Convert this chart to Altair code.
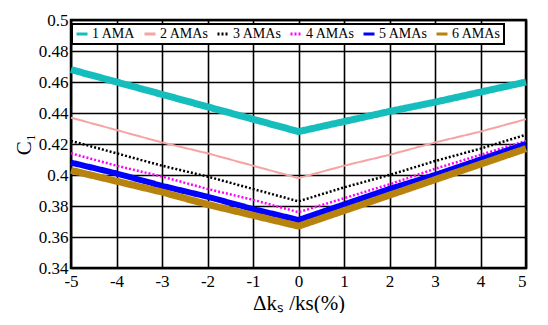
import altair as alt
import pandas as pd

x_vals = [-5, -4, -3, -2, -1, 0, 1, 2, 3, 4, 5]
series_names = ["1 AMA", "2 AMAs", "3 AMAs", "4 AMAs", "5 AMAs", "6 AMAs"]
s1 = [0.468, 0.460, 0.452, 0.444, 0.436, 0.428, 0.4345, 0.441, 0.447, 0.4535, 0.460]
s2 = [0.437, 0.429, 0.421, 0.414, 0.406, 0.398, 0.406, 0.413, 0.421, 0.428, 0.436]
s3 = [0.422, 0.414, 0.406, 0.399, 0.391, 0.383, 0.392, 0.400, 0.409, 0.417, 0.426]
s4 = [0.414, 0.406, 0.399, 0.391, 0.384, 0.376, 0.385, 0.394, 0.404, 0.413, 0.422]
s5 = [0.408, 0.401, 0.393, 0.386, 0.378, 0.371, 0.381, 0.391, 0.400, 0.410, 0.420]
s6 = [0.403, 0.396, 0.389, 0.381, 0.374, 0.367, 0.377, 0.387, 0.397, 0.407, 0.417]
x_ticks = [-5, -4, -3, -2, -1, 0, 1, 2, 3, 4, 5]
y_ticks = [0.34, 0.36, 0.38, 0.40, 0.42, 0.44, 0.46, 0.48, 0.50]

colors = ["#16BDBD", "#F7A3A3", "#000000", "#FF00FF", "#0000FF", "#B8820E"]
dashes = [[1, 0], [1, 0], [2, 2], [2, 2], [1, 0], [1, 0]]
widths = [7, 2, 2.5, 2.5, 6, 7]

rows = []
for name, ys, w in zip(series_names, [s1, s2, s3, s4, s5, s6], widths):
    for xv, yv in zip(x_vals, ys):
        rows.append({"x": xv, "y": yv, "series": name, "w": w})
df = pd.DataFrame(rows)

FONT = "Times New Roman, Liberation Serif, serif"

leg = dict(title=None, orient="none", legendX=1, legendY=4,
           direction="horizontal", columns=6, gridAlign="none",
           strokeColor="black", fillColor="white",
           padding=3, symbolType="stroke", symbolSize=121,
           symbolStrokeWidth=3, labelFont=FONT, labelFontSize=14,
           labelColor="black", columnPadding=2, labelOffset=3)

chart = alt.Chart(df).mark_line().encode(
    x=alt.X("x:Q", scale=alt.Scale(domain=[-5, 5], nice=False),
            axis=alt.Axis(values=x_ticks, title="Δkₛ /ks(%)", labelExpr="'' + datum.value",
                          labelAlign=alt.expr("datum.value == 5 ? 'right' : 'center'"))),
    y=alt.Y("y:Q", scale=alt.Scale(domain=[0.34, 0.5], nice=False),
            axis=alt.Axis(values=y_ticks, title="C₁", format=".2~f")),
    color=alt.Color("series:N", scale=alt.Scale(domain=series_names, range=colors),
                    legend=alt.Legend(**leg)),
    strokeDash=alt.StrokeDash("series:N", scale=alt.Scale(domain=series_names, range=dashes),
                              legend=alt.Legend(**leg)),
    size=alt.Size("w:Q", scale=None, legend=None),
    order=alt.Order("x:Q"),
).properties(
    width=532, height=305,
    autosize=alt.AutoSizeParams(type="fit", contains="padding"),
    padding={"left": 5, "top": 3, "right": 0, "bottom": 0},
).configure_view(
    stroke="black", strokeWidth=2.5,
).configure_legend(
    strokeWidth=2,
).configure_axis(
    grid=True, gridColor="black", gridWidth=1.6, gridOpacity=1,
    domain=False, ticks=False,
    labelFont=FONT, labelFontSize=17, labelColor="black",
    titleFont=FONT, titleFontSize=21, titleColor="black", titleFontWeight="normal",
).configure_axisY(
    titleAngle=-90, titlePadding=4, labelPadding=3,
).configure_axisX(
    titlePadding=3, labelPadding=5,
)

chart.save("out.html", embed_options={"renderer": "svg", "actions": False})
